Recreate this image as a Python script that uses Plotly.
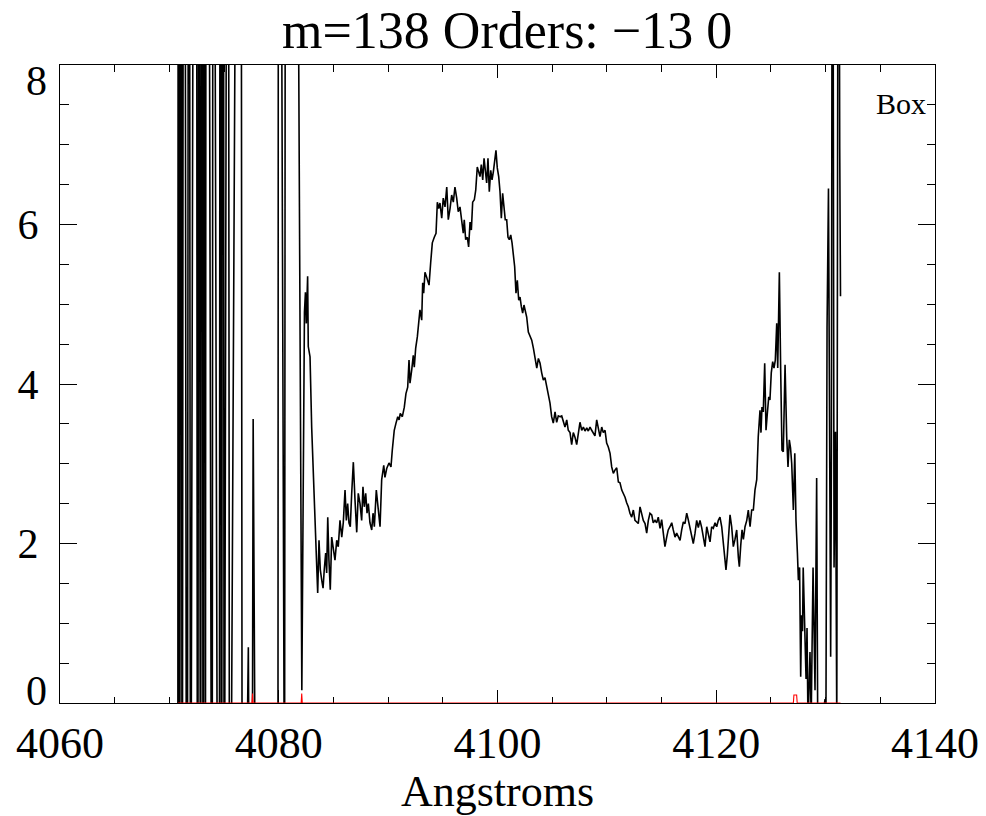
import plotly.graph_objects as go

# Extracted spectrum for order m=138 (box extraction), wavelength in Angstroms
wave_box = [
    4070.77, 4070.82, 4070.93, 4071.06, 4071.17, 4071.34, 4071.61, 4071.79, 4071.94,
    4072.43, 4072.58, 4072.71, 4072.85, 4072.98, 4073.09, 4073.17, 4073.26, 4073.29,
    4073.40, 4073.90, 4074.01, 4074.54, 4074.67, 4074.77, 4074.90, 4075.01, 4075.36,
    4075.51, 4076.50, 4076.66, 4077.14, 4077.22, 4077.26, 4077.60, 4077.66, 4077.72,
    4077.76, 4077.81, 4078.47, 4079.20, 4079.93, 4079.99, 4080.53, 4080.66, 4081.81,
    4081.99, 4082.11,
    4082.35, 4082.44, 4082.52, 4082.64, 4082.70, 4082.86, 4083.01, 4083.16, 4083.22,
    4083.38, 4083.47, 4083.56, 4083.68, 4083.80, 4083.93, 4084.05, 4084.16, 4084.29,
    4084.38, 4084.48, 4084.59, 4084.71, 4084.84, 4084.99, 4085.14, 4085.30, 4085.44,
    4085.60, 4085.76, 4085.90, 4086.06, 4086.18, 4086.30, 4086.42, 4086.54, 4086.67,
    4086.82, 4086.97, 4087.13, 4087.27, 4087.43, 4087.58, 4087.70, 4087.82, 4087.95,
    4088.07, 4088.19, 4088.34, 4088.50, 4088.62, 4088.74, 4088.92, 4089.10, 4089.26,
    4089.41, 4089.60, 4089.71, 4089.87, 4090.08, 4090.26, 4090.38, 4090.56, 4090.72,
    4090.88, 4091.00, 4091.11, 4091.30, 4091.48, 4091.63, 4091.79, 4091.91, 4092.00,
    4092.16, 4092.30, 4092.39, 4092.52, 4092.67, 4092.76, 4092.91, 4093.07, 4093.16,
    4093.25, 4093.37, 4093.52, 4093.74, 4093.89, 4094.04, 4094.22, 4094.38, 4094.50,
    4094.62, 4094.74, 4094.90, 4095.04, 4095.20, 4095.36, 4095.50, 4095.66, 4095.81,
    4095.96, 4096.11, 4096.27, 4096.41, 4096.57, 4096.73, 4096.87, 4096.96, 4097.09,
    4097.24, 4097.36, 4097.49, 4097.61, 4097.73, 4097.88, 4098.01, 4098.15, 4098.28,
    4098.40, 4098.52, 4098.65, 4098.77, 4098.89, 4099.01, 4099.13, 4099.25, 4099.38,
    4099.50, 4099.62, 4099.74, 4099.86, 4099.98, 4100.11, 4100.23, 4100.35, 4100.47,
    4100.59, 4100.71, 4100.84, 4100.96, 4101.08, 4101.21, 4101.33, 4101.45, 4101.57,
    4101.69, 4101.81, 4101.94, 4102.06, 4102.18, 4102.30, 4102.42, 4102.54, 4102.67,
    4102.82, 4102.97, 4103.13, 4103.28, 4103.43, 4103.59, 4103.74, 4103.89, 4104.04,
    4104.19, 4104.34, 4104.50, 4104.64, 4104.80, 4104.95, 4105.10, 4105.26, 4105.41,
    4105.56, 4105.71, 4105.87, 4106.02, 4106.17, 4106.33, 4106.47, 4106.63, 4106.78,
    4106.93, 4107.09, 4107.24, 4107.39, 4107.54, 4107.70, 4107.85, 4108.00, 4108.16,
    4108.30, 4108.46, 4108.61, 4108.76, 4108.91, 4109.07, 4109.22, 4109.37, 4109.53,
    4109.67, 4109.83, 4109.98, 4110.13, 4110.29, 4110.44, 4110.59, 4110.74, 4110.90,
    4111.05, 4111.20, 4111.36, 4111.51, 4111.66, 4111.81, 4111.96, 4112.11, 4112.27,
    4112.42, 4112.57, 4112.73, 4112.87, 4113.03, 4113.18, 4113.33, 4113.49, 4113.64,
    4113.79, 4113.94, 4114.10, 4114.24, 4114.40, 4114.55, 4114.70, 4114.86, 4115.01,
    4115.16, 4115.31, 4115.47, 4115.61, 4115.77, 4115.93, 4116.07, 4116.23, 4116.38,
    4116.53, 4116.69, 4116.84, 4116.99, 4117.14, 4117.30, 4117.44, 4117.60, 4117.75,
    4117.90, 4118.06, 4118.21, 4118.36, 4118.51, 4118.67, 4118.82, 4118.97, 4119.13,
    4119.27, 4119.43, 4119.58, 4119.73, 4119.89, 4120.04, 4120.19, 4120.34, 4120.50,
    4120.65, 4120.80, 4120.89, 4121.01, 4121.14, 4121.26, 4121.41, 4121.56, 4121.71,
    4121.87, 4122.02, 4122.11, 4122.24, 4122.36, 4122.48, 4122.63, 4122.79, 4122.93,
    4123.09, 4123.24, 4123.39, 4123.54, 4123.70, 4123.84, 4124.00, 4124.09, 4124.18,
    4124.30, 4124.43, 4124.55, 4124.67, 4124.80, 4124.91, 4125.03, 4125.16, 4125.28,
    4125.40, 4125.53, 4125.62, 4125.69, 4125.77, 4125.89, 4126.01, 4126.13, 4126.29,
    4126.44, 4126.56, 4126.68, 4126.79, 4126.90, 4127.05, 4127.18, 4127.29, 4127.42,
    4127.51, 4127.62, 4127.72, 4127.80, 4127.89, 4127.95, 4128.02, 4128.11, 4128.21,
    4128.30, 4128.39, 4128.57, 4128.68, 4128.85, 4129.03, 4129.18, 4129.28, 4129.58,
    4129.95, 4130.03, 4130.13, 4130.26, 4130.35, 4130.46, 4130.53, 4130.63, 4130.77,
    4130.90, 4131.02, 4131.17, 4131.29, 4131.36,
]

flux_box = [
    -4.0, 20.0, -6.0, 18.0, -5.0, 22.0, -8.0, 19.0, -4.0,
    25.0, -7.0, 16.0, -5.0, 21.0, -6.0, 30.0, 2.8, -3.0,
    24.0, -5.0, 17.0, -9.0, 20.0, -6.0, 23.0, -4.0, 19.0,
    -5.0, 22.0, -3.0, -0.2, 0.7, -0.3, -0.1, 3.56, 1.3,
    1.85, -0.2, -0.5, -0.4, -0.5, 20.0, -2.0, 22.0, 8.5,
    3.0, 0.16,
    4.9, 5.15, 4.76, 5.35, 4.47, 4.34, 3.46, 2.92, 2.71,
    2.13, 1.79, 1.38, 2.04, 1.67, 1.54, 1.44, 1.67, 1.88,
    1.63, 2.33, 1.79, 1.42, 2.08, 1.96, 1.79, 2.04, 1.96,
    2.29, 2.08, 2.26, 2.67, 2.29, 2.50, 2.26, 2.21, 2.63,
    3.02, 2.55, 2.14, 2.63, 2.50, 2.29, 2.71, 2.46, 2.63,
    2.38, 2.50, 2.26, 2.17, 2.38, 2.21, 2.67, 2.38, 2.21,
    2.80, 2.98, 2.83, 2.94, 3.01, 2.96, 3.17, 3.42, 3.51,
    3.59, 3.55, 3.63, 3.59, 3.71, 3.88, 3.96, 4.30, 4.01,
    4.18, 4.36, 4.21, 4.45, 4.59, 4.71, 4.93, 4.80, 5.27,
    5.14, 5.40, 5.34, 5.24, 5.52, 5.77, 5.84, 5.89, 6.28,
    6.20, 6.27, 6.08, 6.33, 6.22, 6.47, 6.06, 6.20, 6.37,
    6.28, 6.47, 6.33, 6.16, 6.22, 6.06, 5.89, 6.06, 5.81,
    5.84, 5.72, 6.03, 5.93, 6.28, 6.31, 6.43, 6.72, 6.66,
    6.60, 6.75, 6.56, 6.83, 6.65, 6.52, 6.83, 6.41, 6.68,
    6.56, 6.66, 6.81, 6.93, 6.71, 6.60, 6.41, 6.08, 6.39,
    6.18, 6.06, 6.06, 5.84, 5.81, 5.87, 5.77, 5.64, 5.47,
    5.14, 5.30, 5.05, 5.09, 4.97, 4.89, 4.99, 4.93, 4.84,
    4.65, 4.61, 4.55, 4.45, 4.33, 4.20, 4.32, 4.26, 4.14,
    4.05, 4.08, 3.96, 3.84, 3.76, 3.59, 3.51, 3.65, 3.52,
    3.60, 3.59, 3.60, 3.52, 3.46, 3.55, 3.42, 3.39, 3.24,
    3.39, 3.33, 3.24, 3.42, 3.52, 3.42, 3.46, 3.41, 3.45,
    3.41, 3.46, 3.42, 3.39, 3.35, 3.55, 3.42, 3.34, 3.46,
    3.39, 3.42, 3.26, 3.21, 3.13, 2.96, 2.88, 2.92, 2.95,
    2.77, 2.76, 2.67, 2.63, 2.58, 2.51, 2.46, 2.38, 2.33,
    2.42, 2.29, 2.27, 2.25, 2.46, 2.36, 2.29, 2.25, 2.13,
    2.29, 2.38, 2.36, 2.26, 2.29, 2.26, 2.33, 2.19, 2.30,
    2.13, 1.96, 2.08, 2.17, 2.21, 2.26, 2.17, 2.08, 2.13,
    2.08, 2.04, 2.17, 2.27, 2.25, 2.38, 2.30, 2.20, 2.07,
    2.00, 2.13, 2.29, 2.20, 2.29, 2.20, 2.08, 1.96, 2.21,
    2.13, 2.02, 2.21, 2.19, 2.26, 2.21, 2.29, 2.33, 2.21,
    2.00, 1.83, 1.67, 1.85, 2.13, 2.36, 2.21, 1.96, 2.05,
    2.17, 1.83, 1.71, 1.98, 2.17, 2.05, 2.21, 2.29, 2.42,
    2.21, 2.42, 2.42, 2.67, 2.80, 3.34, 3.67, 3.39, 3.71,
    3.65, 4.26, 3.42, 3.63, 3.84, 3.80, 4.14, 4.28, 4.20,
    4.30, 4.76, 4.20, 4.60, 5.40, 4.18, 3.17, 3.15, 4.24,
    3.34, 2.96, 3.30, 3.20, 3.00, 2.42, 3.13, 2.29, 1.88,
    1.54, 1.70, 0.33, 1.10, 0.90, 1.70, 1.20, 0.90, 0.30,
    0.94, -0.30, 0.64, -0.20, 1.70, 0.16, 2.82, -0.40, -0.30,
    0.05, -0.20, 4.70, 6.45, 3.00, 0.58, 3.20, 14.0, 1.70,
    3.40, -0.30, 14.0, 6.95, 5.10,
]

# Bad-pixel mask profile drawn along the baseline
wave_mask = [4070.80, 4077.55, 4077.60, 4077.65, 4082.05, 4082.10, 4082.15,
             4127.05, 4127.10, 4127.35, 4127.40, 4131.36]
mask_val = [0.0, 0.0, 0.12, 0.0, 0.0, 0.12, 0.0,
            0.0, 0.1, 0.1, 0.0, 0.0]

x_tick_vals = [4060, 4080, 4100, 4120, 4140]
y_tick_vals = [0, 2, 4, 6, 8]

FONT = "Liberation Serif"

fig = go.Figure()
fig.add_trace(go.Scatter(
    x=wave_box, y=flux_box, mode="lines",
    line=dict(color="black", width=1.6),
    hoverinfo="skip", showlegend=False,
))
fig.add_trace(go.Scatter(
    x=wave_mask, y=mask_val, mode="lines",
    line=dict(color="#ff0000", width=1.1),
    hoverinfo="skip", showlegend=False,
))
# empty traces that anchor the overlaid label axes for the end ticks
fig.add_trace(go.Scatter(x=[None], y=[None], yaxis="y2", showlegend=False, hoverinfo="skip"))
fig.add_trace(go.Scatter(x=[None], y=[None], yaxis="y3", showlegend=False, hoverinfo="skip"))

axis_common = dict(
    showgrid=False, zeroline=False, showline=True, linecolor="black", linewidth=1,
    mirror="ticks", ticks="inside", tickcolor="black", tickwidth=1,
    layer="below traces", automargin=False,
)
label_font = dict(family=FONT, size=42, color="black")

fig.update_layout(
    width=986, height=816,
    margin=dict(l=60, r=51, t=65, b=113),
    paper_bgcolor="white", plot_bgcolor="white",
    title=dict(
        text="m=138 Orders: \u221213 0",
        font=dict(family=FONT, size=52, color="black"),
        x=0.511, xref="paper", xanchor="center",
        y=0.963, yref="container", yanchor="middle",
    ),
    xaxis=dict(
        range=[4060, 4140], tickvals=x_tick_vals,
        ticklen=13, ticklabelstandoff=1,
        minor=dict(dtick=5, tick0=4060, ticks="inside", ticklen=6.5, tickcolor="black"),
        title=dict(text="Angstroms", font=dict(family=FONT, size=44, color="black"), standoff=10),
        tickfont=dict(family=FONT, size=44, color="black"),
        **axis_common,
    ),
    yaxis=dict(
        range=[0, 8], tickvals=y_tick_vals, ticktext=["", "2", "4", "6", ""],
        ticklen=17, ticklabelstandoff=12,
        minor=dict(dtick=0.5, tick0=0, ticks="inside", ticklen=8.5, tickcolor="black"),
        tickfont=label_font,
        **axis_common,
    ),
    yaxis2=dict(
        overlaying="y", side="left", range=[0, 8], tickvals=[8], ticktext=["8"],
        ticks="", showline=False, showgrid=False, zeroline=False, automargin=False,
        ticklabelstandoff=12, ticklabelshift=15,
        tickfont=label_font,
    ),
    yaxis3=dict(
        overlaying="y", side="left", range=[0, 8], tickvals=[0], ticktext=["0"],
        ticks="", showline=False, showgrid=False, zeroline=False, automargin=False,
        ticklabelstandoff=12, ticklabelshift=-13,
        tickfont=label_font,
    ),
    annotations=[dict(
        text="Box", xref="paper", yref="paper", x=0.992, y=0.940,
        xanchor="right", yanchor="middle", showarrow=False,
        font=dict(family=FONT, size=30, color="black"),
    )],
)

fig.write_html("out.html", config={"displayModeBar": False, "staticPlot": True})
